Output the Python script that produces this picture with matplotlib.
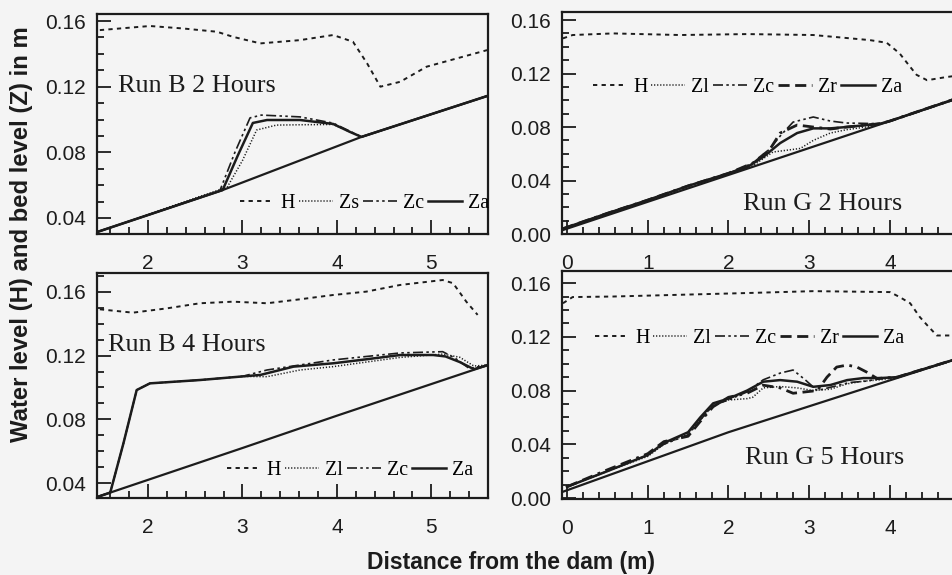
import numpy as np
import matplotlib.pyplot as plt
from matplotlib.lines import Line2D
from matplotlib.ticker import MultipleLocator, FormatStrFormatter

# ---- Run B 2 Hours ----
b2_bed_x = [1.46, 2.79, 4.26, 5.60]
b2_bed_y = [0.0314, 0.057, 0.0894, 0.1145]
b2_h_x = [1.49, 2.02, 2.37, 2.73, 2.90, 3.19, 3.61, 3.96, 4.17, 4.32, 4.46, 4.67, 4.95, 5.59]
b2_h_y = [0.1545, 0.157, 0.1555, 0.1535, 0.1504, 0.1464, 0.1484, 0.1515, 0.1474, 0.1342, 0.120, 0.123, 0.1322, 0.1423]
b2_za_x = [1.46, 2.79, 2.95, 3.11, 3.26, 3.61, 3.96, 4.14, 4.26, 5.60]
b2_za_y = [0.0314, 0.057, 0.078, 0.0979, 0.0997, 0.0997, 0.0973, 0.0924, 0.0894, 0.1145]
b2_zc_x = [1.46, 2.76, 2.92, 3.08, 3.20, 3.61, 3.96, 4.14, 4.26, 5.60]
b2_zc_y = [0.0314, 0.0565, 0.080, 0.1010, 0.1027, 0.1016, 0.0978, 0.0928, 0.0894, 0.1145]
b2_zs_x = [1.46, 2.84, 3.00, 3.15, 3.36, 3.61, 3.96, 4.14, 4.26, 5.60]
b2_zs_y = [0.0314, 0.0589, 0.075, 0.0936, 0.0966, 0.0968, 0.0970, 0.0924, 0.0894, 0.1145]

# ---- Run B 4 Hours ----
b4_bed_x = [1.46, 3.0, 4.0, 5.60]
b4_bed_y = [0.0312, 0.062, 0.0823, 0.1141]
b4_h_x = [1.49, 1.84, 2.20, 2.55, 2.90, 3.26, 3.61, 3.96, 4.31, 4.67, 5.12, 5.23, 5.37, 5.49]
b4_h_y = [0.1491, 0.147, 0.1497, 0.1529, 0.1539, 0.1529, 0.1554, 0.1581, 0.1602, 0.1644, 0.1675, 0.1655, 0.1539, 0.1456]
b4_za_x = [1.46, 1.60, 1.74, 1.88, 2.02, 2.55, 3.19, 3.54, 3.96, 4.31, 4.67, 5.02, 5.15, 5.30, 5.45, 5.60]
b4_za_y = [0.0312, 0.034, 0.065, 0.0984, 0.1026, 0.1047, 0.1079, 0.1131, 0.1152, 0.1177, 0.1204, 0.1204, 0.1195, 0.1160, 0.1115, 0.1141]
b4_zc_x = [1.46, 1.60, 1.74, 1.88, 2.02, 2.55, 3.00, 3.26, 3.96, 4.67, 5.12, 5.25, 5.40, 5.60]
b4_zc_y = [0.0312, 0.034, 0.065, 0.0984, 0.1026, 0.1047, 0.107, 0.111, 0.1173, 0.1217, 0.1225, 0.1185, 0.112, 0.1141]
b4_zl_x = [1.46, 1.60, 1.74, 1.88, 2.02, 2.55, 3.00, 3.26, 3.61, 3.96, 4.67, 5.12, 5.30, 5.45, 5.60]
b4_zl_y = [0.0312, 0.034, 0.065, 0.0984, 0.1026, 0.1047, 0.1070, 0.1068, 0.111, 0.1131, 0.1189, 0.1210, 0.119, 0.1135, 0.1141]

# ---- Run G 2 Hours ----
g2_bed_x = [-0.05, 2.23, 4.78]
g2_bed_y = [0.003, 0.0488, 0.1002]
g2_h_x = [-0.05, 0.07, 0.57, 1.40, 2.23, 3.05, 3.75, 3.96, 4.12, 4.25, 4.33, 4.46, 4.70, 4.78]
g2_h_y = [0.1463, 0.1488, 0.150, 0.1488, 0.1495, 0.1488, 0.145, 0.143, 0.135, 0.125, 0.119, 0.115, 0.1174, 0.118]
g2_za_x = [-0.05, 0.5, 1.0, 1.5, 2.0, 2.23, 2.43, 2.64, 2.85, 3.05, 3.26, 3.46, 3.88, 4.0, 4.78]
g2_za_y = [0.004, 0.0155, 0.0254, 0.036, 0.0454, 0.050, 0.0576, 0.068, 0.0755, 0.079, 0.079, 0.080, 0.0825, 0.0845, 0.1005]
g2_zc_x = [-0.05, 0.5, 1.0, 1.5, 2.0, 2.30, 2.50, 2.65, 2.80, 3.05, 3.26, 3.46, 3.88, 4.0, 4.78]
g2_zc_y = [0.004, 0.0155, 0.0254, 0.036, 0.0454, 0.053, 0.063, 0.074, 0.0837, 0.0875, 0.0845, 0.083, 0.0825, 0.0845, 0.1005]
g2_zr_x = [-0.05, 0.5, 1.0, 1.5, 2.0, 2.30, 2.51, 2.64, 2.85, 3.05, 3.26, 3.46, 3.88, 4.0, 4.78]
g2_zr_y = [0.004, 0.0155, 0.0254, 0.036, 0.0454, 0.053, 0.063, 0.0755, 0.0815, 0.080, 0.0785, 0.080, 0.0825, 0.0845, 0.1005]
g2_zl_x = [-0.05, 0.5, 1.0, 1.5, 2.0, 2.30, 2.55, 2.89, 3.05, 3.26, 3.46, 3.70, 4.0, 4.78]
g2_zl_y = [0.004, 0.0155, 0.0254, 0.036, 0.0454, 0.051, 0.0613, 0.064, 0.070, 0.0755, 0.078, 0.080, 0.0845, 0.1005]

# ---- Run G 5 Hours ----
g5_bed_x = [-0.05, 2.0, 4.78]
g5_bed_y = [0.0047, 0.049, 0.1027]
g5_h_x = [-0.05, 0.07, 0.57, 2.23, 3.05, 4.0, 4.12, 4.25, 4.37, 4.46, 4.58, 4.70, 4.78]
g5_h_y = [0.145, 0.1496, 0.150, 0.1526, 0.154, 0.1533, 0.1496, 0.145, 0.1347, 0.1287, 0.121, 0.121, 0.121]
g5_za_x = [0.0, 0.5, 1.0, 1.2, 1.5, 1.65, 1.81, 2.0, 2.23, 2.43, 2.64, 2.85, 3.05, 3.26, 3.47, 3.67, 3.88, 4.09, 4.78]
g5_za_y = [0.0084, 0.020, 0.032, 0.041, 0.049, 0.060, 0.0705, 0.074, 0.080, 0.0866, 0.0878, 0.0866, 0.0828, 0.0841, 0.0878, 0.0893, 0.0893, 0.090, 0.1027]
g5_zc_x = [0.0, 0.5, 1.0, 1.2, 1.5, 1.65, 1.81, 2.0, 2.23, 2.43, 2.64, 2.80, 2.95, 3.10, 3.30, 3.50, 3.70, 3.90, 4.09, 4.78]
g5_zc_y = [0.0084, 0.020, 0.032, 0.040, 0.047, 0.058, 0.069, 0.073, 0.079, 0.088, 0.093, 0.0953, 0.088, 0.080, 0.083, 0.086, 0.087, 0.089, 0.090, 0.1027]
g5_zr_x = [0.0, 0.5, 1.0, 1.2, 1.5, 1.65, 1.81, 2.0, 2.23, 2.43, 2.64, 2.80, 2.95, 3.10, 3.22, 3.34, 3.47, 3.59, 3.71, 3.84, 4.09, 4.78]
g5_zr_y = [0.0084, 0.021, 0.033, 0.042, 0.046, 0.057, 0.068, 0.075, 0.078, 0.084, 0.082, 0.078, 0.079, 0.080, 0.090, 0.0975, 0.099, 0.0975, 0.0938, 0.089, 0.090, 0.1027]
g5_zl_x = [0.0, 0.5, 1.0, 1.2, 1.5, 1.65, 1.81, 2.0, 2.23, 2.30, 2.43, 2.64, 2.85, 3.05, 3.26, 3.47, 3.67, 3.88, 4.09, 4.78]
g5_zl_y = [0.0084, 0.020, 0.031, 0.040, 0.048, 0.058, 0.069, 0.073, 0.074, 0.075, 0.082, 0.083, 0.082, 0.080, 0.081, 0.085, 0.087, 0.088, 0.090, 0.1027]

INK = '#1c1c1c'
SERIF = 'Liberation Serif'
SANS = 'Liberation Sans'

STYLES = {
    'H':  dict(ls=(0, (2.2, 2.2)), lw=1.4),
    'Zs': dict(ls=(0, (0.8, 1.2)), lw=1.1),
    'Zl': dict(ls=(0, (0.8, 1.2)), lw=1.1),
    'Zc': dict(ls=(0, (6, 2, 1.5, 2, 1.5, 2)), lw=1.2),
    'Zr': dict(ls=(0, (4, 2, 4, 2, 1, 2)), lw=2.0),
    'Za': dict(ls='-', lw=1.8),
}


def setup_axes(ax, xlim, ylim, xticks, yticks):
    ax.set_facecolor('none')
    ax.set_xlim(*xlim)
    ax.set_ylim(*ylim)
    ax.set_xticks(xticks)
    ax.set_yticks(yticks)
    ax.xaxis.set_minor_locator(MultipleLocator(0.2))
    ax.yaxis.set_minor_locator(MultipleLocator(0.01))
    ax.yaxis.set_major_formatter(FormatStrFormatter('%.2f'))
    ax.xaxis.set_major_formatter(FormatStrFormatter('%d'))
    ax.tick_params(which='both', direction='in', top=False, right=False,
                   color=INK, width=1.3, labelcolor=INK)
    ax.tick_params(which='major', length=10, labelsize=15)
    ax.tick_params(which='minor', length=5)
    ax.tick_params(axis='x', which='major', pad=14.5)
    ax.tick_params(axis='y', which='major', pad=8)
    for lab in ax.get_xticklabels() + ax.get_yticklabels():
        lab.set_fontfamily(SANS)
    for s in ax.spines.values():
        s.set_linewidth(1.6)
        s.set_color(INK)


def draw_panel(ax, bed, series, title, title_pos, leg_pos):
    ax.plot(bed[0], bed[1], color=INK, lw=1.6)
    handles = []
    for name, (xs, ys) in series.items():
        st = STYLES[name]
        ax.plot(xs, ys, color=INK, linestyle=st['ls'], lw=st['lw'])
        handles.append(Line2D([], [], color=INK, linestyle=st['ls'], lw=st['lw'], label=name))
    ax.text(title_pos[0], title_pos[1], title, transform=ax.transAxes,
            ha='left', va='center', fontsize=18.8, fontfamily=SERIF, color=INK)
    ax.legend(handles=handles, ncol=len(handles), loc='center left',
              bbox_to_anchor=leg_pos, frameon=False, borderpad=0, borderaxespad=0,
              handlelength=1.7, handletextpad=0.3, columnspacing=0.2,
              prop={'family': SERIF, 'size': 14.4})


fig = plt.figure(figsize=(9.53, 5.75), dpi=100)
fig.patch.set_facecolor('#f4f4f4')

ax_b2 = fig.add_axes([0.1018, 0.5930, 0.4103, 0.3826])
ax_b4 = fig.add_axes([0.1018, 0.1339, 0.4103, 0.3913])
ax_g2 = fig.add_axes([0.5897, 0.5930, 0.43, 0.3861])
ax_g5 = fig.add_axes([0.5897, 0.1322, 0.43, 0.3965])

left_xt = [2, 3, 4, 5]
right_xt = [0, 1, 2, 3, 4]
setup_axes(ax_b2, (1.46, 5.60), (0.0302, 0.1643), left_xt, [0.04, 0.08, 0.12, 0.16])
setup_axes(ax_b4, (1.46, 5.60), (0.0306, 0.1719), left_xt, [0.04, 0.08, 0.12, 0.16])
setup_axes(ax_g2, (-0.062, 5.013), (0.0, 0.166), right_xt, [0.0, 0.04, 0.08, 0.12, 0.16])
setup_axes(ax_g5, (-0.062, 5.013), (-0.0007, 0.169), right_xt, [0.0, 0.04, 0.08, 0.12, 0.16])

draw_panel(ax_b2, (b2_bed_x, b2_bed_y),
           {'H': (b2_h_x, b2_h_y), 'Zs': (b2_zs_x, b2_zs_y),
            'Zc': (b2_zc_x, b2_zc_y), 'Za': (b2_za_x, b2_za_y)},
           'Run B 2 Hours', (0.054, 0.673), (0.366, 0.141))
draw_panel(ax_b4, (b4_bed_x, b4_bed_y),
           {'H': (b4_h_x, b4_h_y), 'Zl': (b4_zl_x, b4_zl_y),
            'Zc': (b4_zc_x, b4_zc_y), 'Za': (b4_za_x, b4_za_y)},
           'Run B 4 Hours', (0.028, 0.68), (0.332, 0.124))
draw_panel(ax_g2, (g2_bed_x, g2_bed_y),
           {'H': (g2_h_x, g2_h_y), 'Zl': (g2_zl_x, g2_zl_y), 'Zc': (g2_zc_x, g2_zc_y),
            'Zr': (g2_zr_x, g2_zr_y), 'Za': (g2_za_x, g2_za_y)},
           'Run G 2 Hours', (0.4417, 0.135), (0.0757, 0.658))
draw_panel(ax_g5, (g5_bed_x, g5_bed_y),
           {'H': (g5_h_x, g5_h_y), 'Zl': (g5_zl_x, g5_zl_y), 'Zc': (g5_zc_x, g5_zc_y),
            'Zr': (g5_zr_x, g5_zr_y), 'Za': (g5_za_x, g5_za_y)},
           'Run G 5 Hours', (0.4466, 0.18), (0.0805, 0.706))

fig.text(0.023, 0.593, 'Water level (H) and bed level (Z) in m', rotation=90,
         ha='center', va='center', fontsize=17.2, fontweight='bold',
         fontfamily=SANS, color=INK)
fig.text(0.536, 0.021, 'Distance from the dam (m)', ha='center', va='center',
         fontsize=16.5, fontweight='bold', fontfamily=SANS, color=INK)

fig.savefig('out.png', dpi=100, facecolor=fig.get_facecolor())
plt.close(fig)
